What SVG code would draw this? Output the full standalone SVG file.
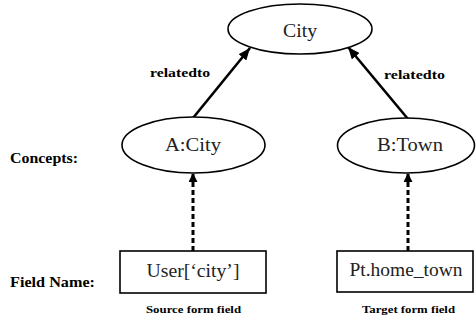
<svg xmlns="http://www.w3.org/2000/svg" width="476" height="320" viewBox="0 0 476 320">
<style>
.node{fill:#fff;stroke:#000;stroke-width:1.6}
.nt{font-family:"Liberation Serif",serif;font-size:18px;fill:#222;text-anchor:middle}
.lb{font-family:"Liberation Serif",serif;font-weight:bold;fill:#000}
.solid{stroke:#000;stroke-width:2.6;fill:none}
.dash{stroke:#000;stroke-width:3;fill:none;stroke-dasharray:5 3}
</style>
<defs>
<marker id="ah" viewBox="0 0 12 10" refX="12" refY="5" markerWidth="12" markerHeight="10" markerUnits="userSpaceOnUse" orient="auto">
<path d="M0,0 L12,5 L0,10 z" fill="#000"/>
</marker>
<marker id="ahs" viewBox="0 0 10 10" refX="10" refY="5" markerWidth="9" markerHeight="9" markerUnits="userSpaceOnUse" orient="auto">
<path d="M0,0 L10,5 L0,10 z" fill="#000"/>
</marker>
</defs>
<rect width="476" height="320" fill="#fff"/>
<g id="connectors">
<line class="solid" x1="193" y1="118" x2="250" y2="48" marker-end="url(#ah)"/>
<line class="solid" x1="408" y1="119" x2="348" y2="47" marker-end="url(#ah)"/>
<line class="dash" x1="193" y1="251" x2="193" y2="173" marker-end="url(#ahs)"/>
<line class="dash" x1="408" y1="251" x2="408" y2="173" marker-end="url(#ahs)"/>
</g>
<g id="city">
<ellipse class="node" cx="300" cy="29" rx="72" ry="25"/>
<text class="nt" x="300" y="37" textLength="34" lengthAdjust="spacingAndGlyphs">City</text>
</g>
<g id="acity">
<ellipse class="node" cx="193.5" cy="145" rx="71.5" ry="28"/>
<text class="nt" x="193" y="151" textLength="56" lengthAdjust="spacingAndGlyphs">A:City</text>
</g>
<g id="btown">
<ellipse class="node" cx="406" cy="145.5" rx="68.5" ry="27.5"/>
<text class="nt" x="410" y="151" textLength="66" lengthAdjust="spacingAndGlyphs">B:Town</text>
</g>
<g id="user">
<rect class="node" x="120" y="251" width="146" height="42"/>
<text class="nt" x="193" y="277" textLength="93" lengthAdjust="spacingAndGlyphs">User[‘city’]</text>
</g>
<g id="pt">
<rect class="node" x="337" y="251" width="136" height="41"/>
<text class="nt" x="406" y="276" textLength="113" lengthAdjust="spacingAndGlyphs">Pt.home_town</text>
</g>
<g id="labels">
<text class="lb" x="150" y="77" font-size="13" textLength="60" lengthAdjust="spacingAndGlyphs">relatedto</text>
<text class="lb" x="384" y="79" font-size="13" textLength="61" lengthAdjust="spacingAndGlyphs">relatedto</text>
<text class="lb" x="10" y="163" font-size="15" textLength="68" lengthAdjust="spacingAndGlyphs">Concepts:</text>
<text class="lb" x="10" y="287" font-size="15" textLength="85" lengthAdjust="spacingAndGlyphs">Field Name:</text>
<text class="lb" x="146" y="313" font-size="11" textLength="95" lengthAdjust="spacingAndGlyphs">Source form field</text>
<text class="lb" x="362" y="313" font-size="11" textLength="93" lengthAdjust="spacingAndGlyphs">Target form field</text>
</g>
</svg>
